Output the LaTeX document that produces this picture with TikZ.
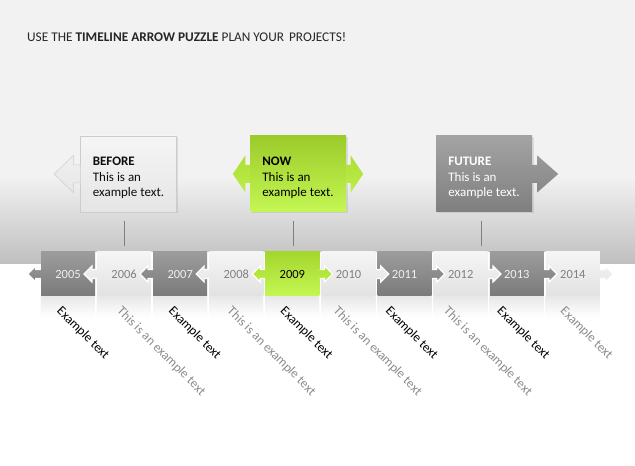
\documentclass[tikz,border=0pt]{standalone}
\usepackage{fontspec}
\setmainfont{Carlito}
\usepackage{xcolor}
\usetikzlibrary{positioning,calc,shadows}
\definecolor{bgTop}{HTML}{F2F2F2}
\definecolor{bgBot}{HTML}{BFBFBF}
\definecolor{dkTop}{HTML}{9C9C9C}
\definecolor{dkBot}{HTML}{7A7A7A}
\definecolor{ltTop}{HTML}{F5F5F5}
\definecolor{ltBot}{HTML}{E2E2E2}
\definecolor{grTop}{HTML}{A4D62D}
\definecolor{grBot}{HTML}{C4F753}
\definecolor{bxDkTop}{HTML}{A3A3A3}
\definecolor{bxDkBot}{HTML}{7F7F7F}

\begin{document}
\begin{tikzpicture}[x=1pt,y=1pt,
    every node/.style={font=\fontsize{13}{15.5}\selectfont},
    year/.style={minimum width=54pt,minimum height=44pt,inner sep=0pt,font=\fontsize{12.5}{15}\selectfont},
    darkyr/.style={year,top color=dkTop,bottom color=dkBot,text=white!94!black},
    lightyr/.style={year,top color=ltTop,bottom color=ltBot,text=black!50},
    nowyr/.style={year,top color=grTop,bottom color=grBot,text=black},
    darktab/.style={top color=dkTop!68!dkBot,bottom color=dkTop!32!dkBot,draw=white,line width=1.2pt},
    lighttab/.style={top color=ltTop!68!ltBot,bottom color=ltTop!32!ltBot,draw=white,line width=1.2pt},
    nowtab/.style={top color=grTop!68!grBot,bottom color=grTop!32!grBot,draw=white,line width=1.2pt},
    ltab/.style={insert path={([yshift=4.5pt]#1.west) -- ++(-5,0) -- ++(0,3.5) -- ++(-8,-8) -- ++(8,-8) -- ++(0,3.5) -- ++(5,0)}},
    rtab/.style={insert path={([yshift=4.5pt]#1.east) -- ++(5,0) -- ++(0,3.5) -- ++(8,-8) -- ++(-8,-8) -- ++(0,3.5) -- ++(-5,0)}},
    box/.style={minimum width=96pt,minimum height=76pt,inner sep=0pt,align=left,
        drop shadow={shadow xshift=1.5pt,shadow yshift=-1.5pt,opacity=.2}},
    boxtabL/.style n args={3}{insert path={([yshift=9pt]#1.west) -- ++(-#2,0) -- ++(0,9.5) -- ++(-#3,-18.5) -- ++(#3,-18.5) -- ++(0,9.5) -- ++(#2,0)}},
    boxtabR/.style n args={3}{insert path={([yshift=9pt]#1.east) -- ++(#2,0) -- ++(0,9.5) -- ++(#3,-18.5) -- ++(-#3,-18.5) -- ++(0,9.5) -- ++(-#2,0)}},
    stem/.style={draw=black!50,line width=0.8pt,shorten <=9pt,shorten >=6pt},
    tag/.style={anchor=north west,rotate=-45,inner sep=0pt}
]
% background
\useasboundingbox (0,0) rectangle (635,466);
\fill[white] (0,0) rectangle (635,202);
\fill[bgTop] (0,290) rectangle (635,466);
\shade[top color=bgTop,bottom color=bgBot] (0,202) rectangle (635,290);
\fill[white] (41,170) rectangle (600,214);

\node[anchor=base west,inner sep=0pt,text=black!85,font=\fontsize{13.3}{16}\selectfont] (title) at (27,424)
    {USE THE \textbf{TIMELINE ARROW PUZZLE} PLAN YOUR\hspace{2pt} PROJECTS!};

% timeline
\foreach \yr/\i/\sty/\tsty in {2005/0/darkyr/darktab,2006/1/lightyr/lighttab,2007/2/darkyr/darktab,2008/3/lightyr/lighttab}{
    \node[\sty] (y\yr) at (68+56.1*\i,192) {\yr};
    \path[\tsty] [ltab=y\yr];
}
\foreach \yr/\i/\sty/\tsty in {2014/9/lightyr/lighttab,2013/8/darkyr/darktab,2012/7/lightyr/lighttab,2011/6/darkyr/darktab,2010/5/lightyr/lighttab}{
    \node[\sty] (y\yr) at (68+56.1*\i,192) {\yr};
    \path[\tsty] [rtab=y\yr];
}
\node[nowyr] (y2009) at (68+56.1*4,192) {2009};
\path[nowtab] [ltab=y2009];
\path[nowtab] [rtab=y2009];

\foreach \yr in {2005,...,2014}
    \shade[top color=black!9,bottom color=white] ([yshift=-0.5pt]y\yr.south west) rectangle ++(54,-20);

\foreach \yr/\dx/\txt/\col in {2005/22/Example text/black,2006/26/This is an example text/black!45,
    2007/21.5/Example text/black,2008/24/This is an example text/black!45,2009/21/Example text/black,
    2010/18/This is an example text/black!45,2011/14/Example text/black,2012/16/This is an example text/black!45,
    2013/13.5/Example text/black,2014/20.5/Example text/black!45}
    \node[tag,text=\col] (tag\yr) at ([shift={(\dx,-9)}]y\yr.south west) {\txt};

% boxes
\node[box,top color=ltTop,bottom color=ltBot!90!white,draw=black!20,line width=0.5pt,text=black!95] (before) at (128.5,292)
    {\rule{0pt}{16.2pt}\textbf{BEFORE}\\This is an\\example text.};
\path[top color=ltTop!74!ltBot,bottom color=ltTop!26!ltBot,draw=black!20,line width=0.5pt] [boxtabL={before}{7}{19}];

\node[box,top color=grTop!95!black,bottom color=grBot,text=black] (now) at (298,292)
    {\rule{0pt}{16.2pt}\textbf{NOW}\\This is an\\example text.};
\path[top color=grTop!74!grBot,bottom color=grTop!26!grBot] [boxtabL={now}{4.5}{12.5}];
\path[top color=grTop!74!grBot,bottom color=grTop!26!grBot] [boxtabR={now}{4.5}{12.5}];

\node[box,top color=bxDkTop,bottom color=bxDkBot,text=white] (future) at (484,292)
    {\rule{0pt}{16.2pt}\textbf{FUTURE}\\This is an\\example text.};
\path[top color=bxDkTop!74!bxDkBot,bottom color=bxDkTop!26!bxDkBot] [boxtabR={future}{5}{21}];

% stems
\draw[stem] ($(before.south)+(-4,0)$) -- ($(before.south |- y2006.north)+(-4,0)$);
\draw[stem] ($(now.south)+(-4.5,0)$) -- ($(now.south |- y2009.north)+(-4.5,0)$);
\draw[stem] ($(future.south)+(-2.5,0)$) -- ($(future.south |- y2012.north)+(-2.5,0)$);
\end{tikzpicture}
\end{document}
